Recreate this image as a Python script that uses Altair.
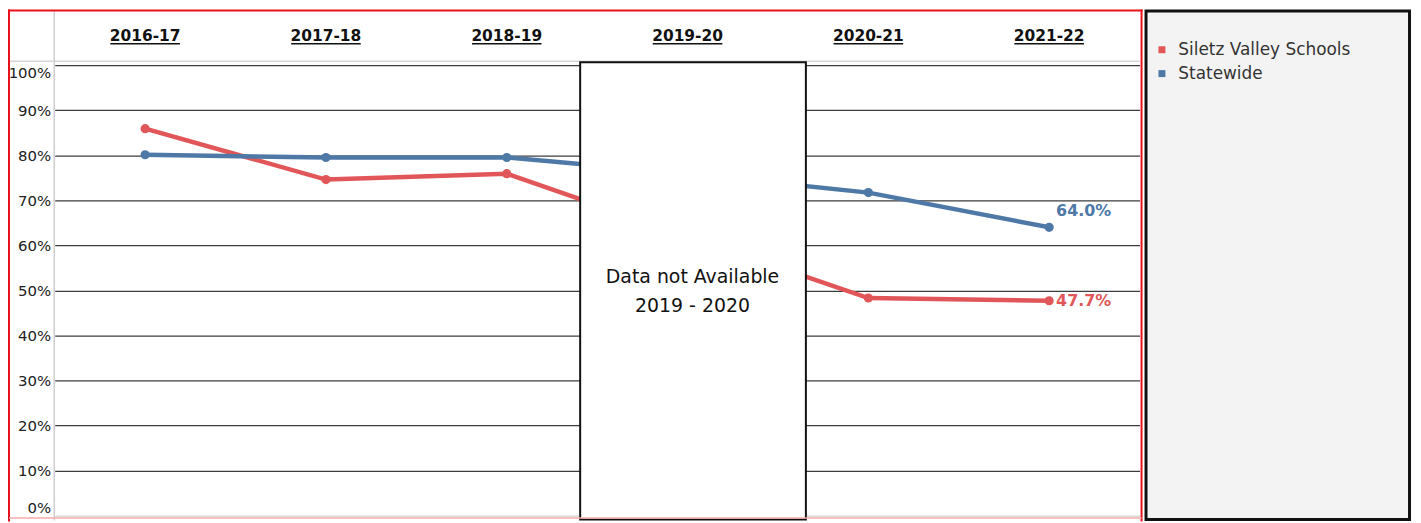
import altair as alt
import pandas as pd

# ---- data ----
years = ["2016-17", "2017-18", "2018-19", "2019-20", "2020-21", "2021-22"]
siletz = [0.859, 0.746, 0.759, 0.620, 0.483, 0.477]
statewide = [0.801, 0.795, 0.795, 0.759, 0.717, 0.640]
series_names = ["Siletz Valley Schools", "Statewide"]
series_colors = ["#e15759", "#4e79a7"]
y_ticks = [0.0, 0.1, 0.2, 0.3, 0.4, 0.5, 0.6, 0.7, 0.8, 0.9, 1.0]
missing_year = "2019-20"
missing_text = "Data not Available\n2019 - 2020"

rows = []
for name, vals in zip(series_names, [siletz, statewide]):
    for yr, v in zip(years, vals):
        rows.append({"year": yr, "series": name, "value": v, "label": f"{v*100:.1f}%"})
df = pd.DataFrame(rows)
yr_df = pd.DataFrame({"year": years})

W, H = 1091, 453
BOLD = "DejaVu Sans"
REG = "DejaVu Sans"

xs = alt.Scale(type="point", domain=years, padding=0.5)
x_enc = alt.X("year:N", scale=xs, axis=None)
y_enc = alt.Y(
    "value:Q",
    scale=alt.Scale(domain=[0, 1], nice=False, zero=True),
    axis=alt.Axis(
        values=y_ticks, format=".0%", title=None, domain=False, ticks=False,
        labelFont=REG, labelFontSize=15, labelColor="#222", labelPadding=4,
        labelFlush=True, labelFlushOffset=0,
        gridColor={"condition": {"test": "datum.value === 0", "value": "#d0d0d0"}, "value": "#3c3c3c"},
        gridWidth=1.4,
    ),
)
cscale = alt.Scale(domain=series_names, range=series_colors)
legend = alt.Legend(
    title=None, orient="none", legendX=1105, legendY=-24,
    symbolType="square", symbolSize=49, symbolStrokeWidth=0,
    labelFont=REG, labelFontSize=17, labelColor="#333", labelLimit=400,
    rowPadding=6, labelOffset=8,
)
color_enc = alt.Color("series:N", scale=cscale, legend=legend)

base = alt.Chart(df)

points = base.mark_circle(size=85, opacity=1).encode(x=x_enc, y=y_enc, color=color_enc)
lines = base.mark_line(strokeWidth=4.5).encode(x=x_enc, y=y_enc, color=color_enc)

# end labels
lab_s = base.transform_filter(
    (alt.datum.year == years[-1]) & (alt.datum.series == series_names[0])
).mark_text(align="left", baseline="middle", dx=7, dy=0, font=BOLD, fontWeight="bold", fontSize=16).encode(
    x=x_enc, y=alt.Y("value:Q"), text="label:N", color=color_enc
)
lab_w = base.transform_filter(
    (alt.datum.year == years[-1]) & (alt.datum.series == series_names[1])
).mark_text(align="left", baseline="middle", dx=7, dy=-16, font=BOLD, fontWeight="bold", fontSize=16).encode(
    x=x_enc, y=alt.Y("value:Q"), text="label:N", color=color_enc
)

# header labels with underline
hdr = alt.Chart(yr_df).mark_text(
    baseline="alphabetic", align="center", font=BOLD, fontWeight="bold", fontSize=15.5, color="#111"
).encode(x=x_enc, y=alt.value(-24), text="year:N")
underline = alt.Chart(yr_df).mark_rule(color="#111", strokeWidth=1.3, xOffset=-35, x2Offset=35).encode(
    x=x_enc, x2="year:N", y=alt.value(-21.5)
)

# frame / separators
deco = alt.Chart(pd.DataFrame({"k": [0]}))
hdr_line = deco.mark_rule(color="#d6d6d6", strokeWidth=1.5).encode(
    x=alt.value(-46), x2=alt.value(W), y=alt.value(-4)
)
axis_line = deco.mark_rule(color="#cfcfcf", strokeWidth=1.5).encode(
    x=alt.value(-0.5), y=alt.value(-55), y2=alt.value(H + 5)
)
red_left = deco.mark_rule(color="#e8101a", strokeWidth=2).encode(
    x=alt.value(-46), y=alt.value(-56), y2=alt.value(H + 6)
)
red_top = deco.mark_rule(color="#e8101a", strokeWidth=2).encode(
    x=alt.value(-47), x2=alt.value(W + 3), y=alt.value(-55)
)
red_right = deco.mark_rule(color="#e8101a", strokeWidth=2).encode(
    x=alt.value(W + 2), y=alt.value(-56), y2=alt.value(H + 6)
)
red_bottom = deco.mark_rule(color="#f7a8a8", strokeWidth=1.5).encode(
    x=alt.value(-46), x2=alt.value(W + 2), y=alt.value(H + 2.5)
)
legend_panel = deco.mark_rect(fill="#f3f3f3", stroke="#111", strokeWidth=3).encode(
    x=alt.value(W + 6.5), x2=alt.value(W + 271.5), y=alt.value(-54.5), y2=alt.value(H + 4)
)

# missing-data box
box = deco.mark_rect(fill="white", stroke="#111", strokeWidth=2, xOffset=-108, x2Offset=119).encode(
    x=alt.X(datum=missing_year, type="nominal", scale=xs, axis=None),
    x2=alt.X2(datum=missing_year),
    y=alt.value(-3), y2=alt.value(H + 4),
)
box_text = deco.mark_text(
    font=REG, fontSize=19, color="#111", align="center", baseline="middle",
    lineBreak="\n", lineHeight=29, dx=5,
).encode(
    x=alt.X(datum=missing_year, type="nominal", scale=xs, axis=None),
    y=alt.value(213),
    text=alt.value(missing_text),
)

chart = alt.layer(
    legend_panel, hdr_line, axis_line,
    points, lines, box, box_text, lab_s, lab_w, hdr, underline,
    red_left, red_top, red_right, red_bottom,
).properties(
    width=W, height=H,
    padding={"left": 47, "top": 56, "right": 275, "bottom": 6},
    autosize="none",
    background="white",
).configure_view(strokeWidth=0)

chart.save("out.html", embed_options={"renderer": "svg", "actions": False})
